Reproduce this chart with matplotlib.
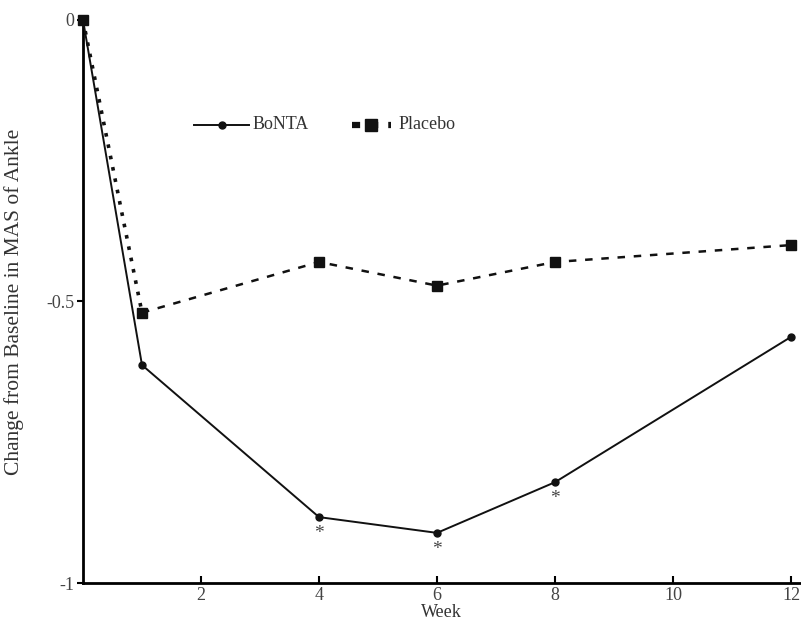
import matplotlib
matplotlib.use('Agg')
import matplotlib.pyplot as plt

# data
weeks = [0, 1, 4, 6, 8, 12]
bonta = [0.0, -0.613, -0.883, -0.911, -0.821, -0.563]
placebo = [0.0, -0.52, -0.43, -0.472, -0.43, -0.40]
signif_weeks = [4, 6, 8]
signif_vals = [-0.883, -0.911, -0.821]

xticks = [2, 4, 6, 8, 10, 12]
yticks = [0, -0.5, -1]
yticklabels = ['0', '-0.5', '-1']

plt.rcParams['font.family'] = ['Liberation Serif', 'DejaVu Serif']

fig = plt.figure(figsize=(8.01, 6.23), dpi=100)
ax = fig.add_axes([0.1036, 0.0642, 0.895, 0.904])

ax.plot(weeks, bonta, color='#111111', lw=1.4, marker='o', ms=5,
        clip_on=False, zorder=3)
# placebo: dotted first segment, dashed afterwards
ax.plot(weeks[:2], placebo[:2], color='#111111', lw=2.6, ls=(0, (1, 2.2)),
        clip_on=False, zorder=2)
ax.plot(weeks[1:], placebo[1:], color='#111111', lw=1.8, ls=(0, (3, 3.5)),
        clip_on=False, zorder=2)
ax.plot(weeks, placebo, ls='none', marker='s', ms=7, color='#111111',
        clip_on=False, zorder=4)

for w, v in zip(signif_weeks, signif_vals):
    ax.annotate('*', (w, v), xytext=(0, -18), textcoords='offset points',
                ha='center', va='bottom', fontsize=14, color='#444444')

# legend drawn by hand in axes coordinates
ly = 0.8135
ax.plot([0.155, 0.232], [ly, ly], transform=ax.transAxes, color='#111111',
        lw=1.4, clip_on=False)
ax.plot([0.194], [ly], transform=ax.transAxes, marker='o', ms=5,
        color='#111111', clip_on=False)
ax.text(0.236, ly, 'BoNTA', transform=ax.transAxes, va='center',
        fontsize=13, color='#333333')
ax.plot([0.375, 0.43], [ly, ly], transform=ax.transAxes, color='#111111',
        lw=4.5, ls=(0, (1.3, 1.6)), clip_on=False)
ax.plot([0.402], [ly], transform=ax.transAxes, marker='s', ms=8,
        color='#111111', clip_on=False)
ax.text(0.44, ly, 'Placebo', transform=ax.transAxes, va='center',
        fontsize=13, color='#333333')

ax.set_xlim(0, 12.15)
ax.set_ylim(-1, 0)
ax.set_xticks(xticks)
ax.set_yticks(yticks)
ax.set_yticklabels(yticklabels)
ax.spines['top'].set_visible(False)
ax.spines['right'].set_visible(False)
ax.spines['left'].set_linewidth(2)
ax.spines['bottom'].set_linewidth(2)
ax.tick_params(axis='x', direction='in', length=5, width=1.5, labelsize=13,
               labelcolor='#444444', pad=3)
ax.tick_params(axis='y', direction='out', length=4, width=1.5, labelsize=13,
               labelcolor='#444444', pad=2)
ax.set_xlabel('Week', fontsize=13, color='#333333', labelpad=0)
ax.set_ylabel('Change from Baseline in MAS of Ankle', fontsize=15.5,
              color='#333333')
ax.yaxis.set_label_coords(-0.082, 0.5)

fig.savefig('out.png', dpi=100)
